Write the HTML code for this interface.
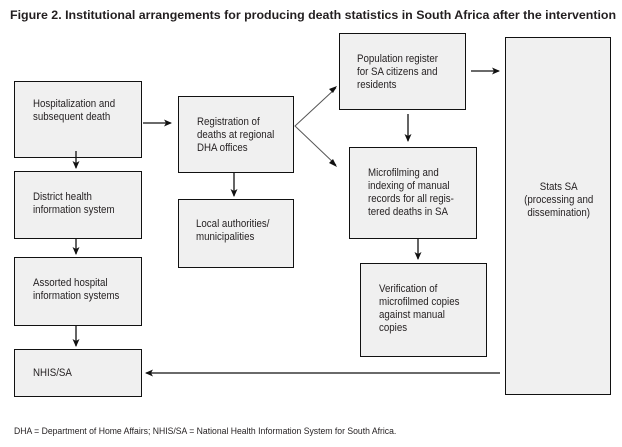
<!DOCTYPE html>
<html><head><meta charset="utf-8"><style>
body{margin:0;background:#fff;width:622px;height:447px;overflow:hidden;position:relative;font-family:"Liberation Sans Narrow","Liberation Sans",sans-serif;color:#231f20}
.b{position:absolute;box-sizing:border-box;border:1.3px solid #111;background:#f0f0f0;font-size:10.5px;line-height:13px}
.t{position:absolute;font-size:10.8px;line-height:13px;white-space:nowrap;transform:scaleX(0.9);transform-origin:0 0}
</style></head><body>
<div class="t" style="left:10px;top:9px;font-weight:bold;font-size:12.4px;transform:none">Figure 2. Institutional arrangements for producing death statistics in South Africa after the intervention</div>
<div class="b" style="left:14px;top:81px;width:128px;height:77px"></div>
<div class="t" style="left:33px;top:98px">Hospitalization and<br>subsequent death</div>
<div class="b" style="left:14px;top:171px;width:128px;height:68px"></div>
<div class="t" style="left:33px;top:191px">District health<br>information system</div>
<div class="b" style="left:14px;top:257px;width:128px;height:69px"></div>
<div class="t" style="left:33px;top:277px">Assorted hospital<br>information systems</div>
<div class="b" style="left:14px;top:349px;width:128px;height:48px"></div>
<div class="t" style="left:33px;top:367px">NHIS/SA</div>
<div class="b" style="left:178px;top:96px;width:116px;height:77px"></div>
<div class="t" style="left:197px;top:116px">Registration of<br>deaths at regional<br>DHA offices</div>
<div class="b" style="left:178px;top:199px;width:116px;height:69px"></div>
<div class="t" style="left:196px;top:218px">Local authorities/<br>municipalities</div>
<div class="b" style="left:339px;top:33px;width:127px;height:77px"></div>
<div class="t" style="left:357px;top:53px">Population register<br>for SA citizens and<br>residents</div>
<div class="b" style="left:349px;top:147px;width:128px;height:92px"></div>
<div class="t" style="left:368px;top:167px">Microfilming and<br>indexing of manual<br>records for all regis-<br>tered deaths in SA</div>
<div class="b" style="left:360px;top:263px;width:127px;height:94px"></div>
<div class="t" style="left:379px;top:283px">Verification of<br>microfilmed copies<br>against manual<br>copies</div>
<div class="b" style="left:505px;top:37px;width:106px;height:358px"></div>
<div class="t" style="left:511px;top:181px;width:106px;text-align:center">Stats SA<br>(processing and<br>dissemination)</div>
<div class="t" style="left:14px;top:425px;font-size:9.6px">DHA = Department of Home Affairs; NHIS/SA = National Health Information System for South Africa.</div>
<svg width="622" height="447" style="position:absolute;left:0;top:0">
<defs><marker id="a" markerWidth="8" markerHeight="8" refX="7" refY="4" orient="auto" markerUnits="userSpaceOnUse"><path d="M0,0.5 L8,4 L0,7.5 L2,4z" fill="#111"/></marker></defs>
<g stroke="#111" stroke-width="1.3" fill="none" marker-end="url(#a)">
<line x1="76" y1="151" x2="76" y2="168"/>
<line x1="76" y1="239" x2="76" y2="254"/>
<line x1="76" y1="326" x2="76" y2="346"/>
<line x1="143" y1="123" x2="171" y2="123"/>
<line x1="234" y1="173" x2="234" y2="196"/>
<line x1="408" y1="114" x2="408" y2="141"/>
<line x1="418" y1="239" x2="418" y2="259"/>
<line x1="471" y1="71" x2="499" y2="71"/>
<line x1="500" y1="373" x2="146" y2="373"/>
</g>
<g stroke="#555" stroke-width="1" fill="none">
<polyline points="336,88 295,126 336,165"/>
</g>
<g fill="#111">
<path d="M337,86 L329,89 L333,93z"/>
<path d="M337,167 L333,159 L329,163z"/>
</g>
</svg>
</body></html>
